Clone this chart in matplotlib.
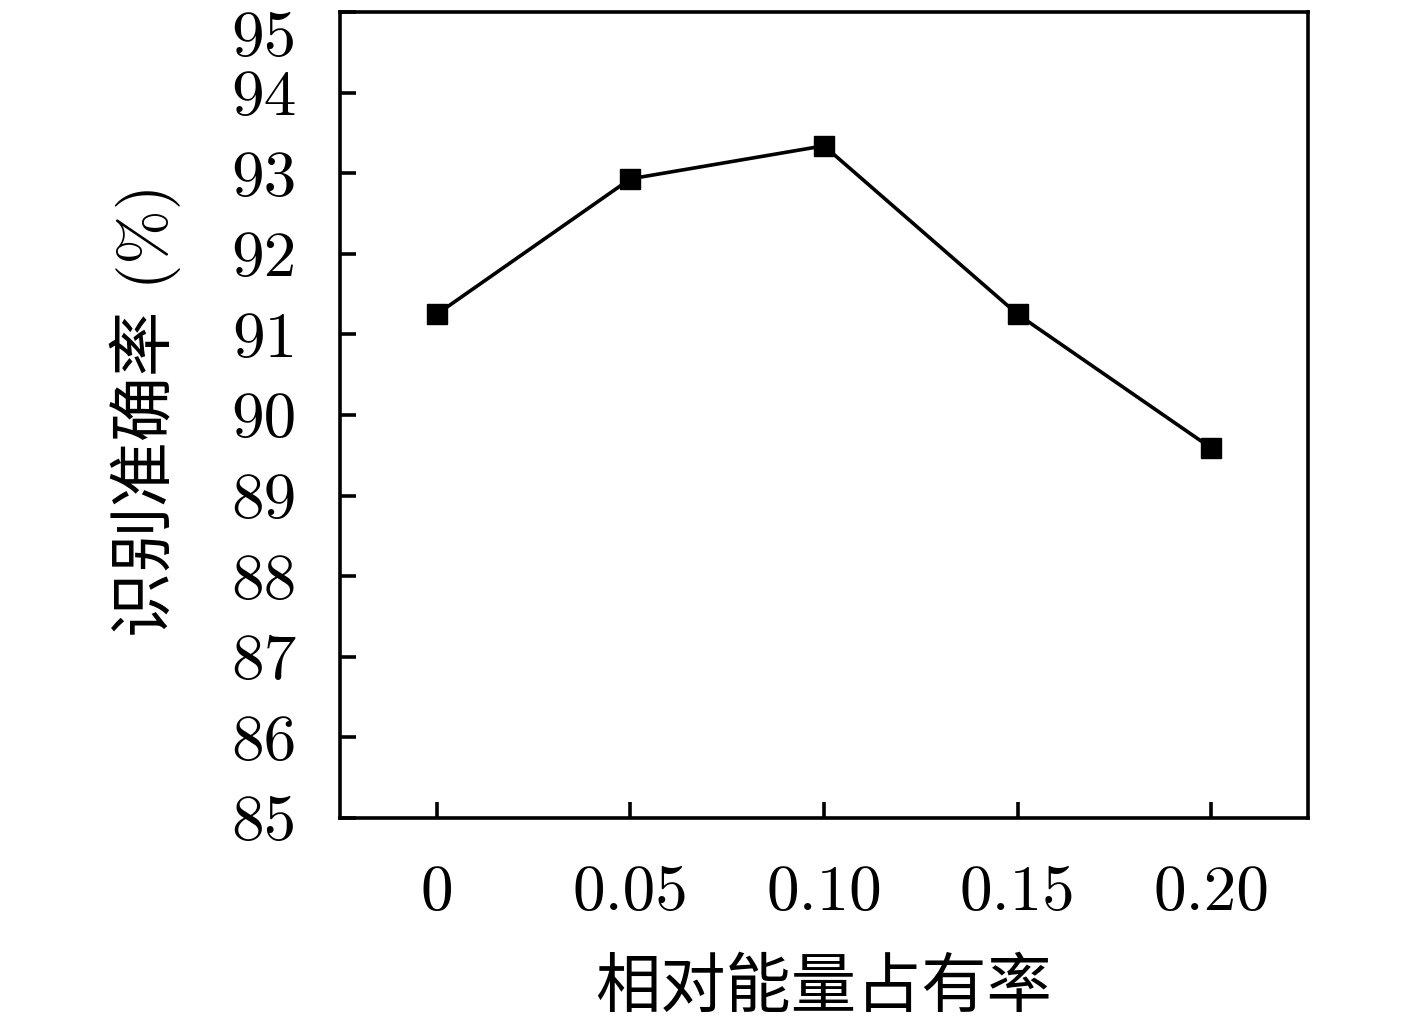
import numpy as np
import matplotlib
matplotlib.use('Agg')
import matplotlib.pyplot as plt
from matplotlib.transforms import ScaledTranslation

ratios = ['0', '0.05', '0.10', '0.15', '0.20']
accuracy = [91.25, 92.93, 93.34, 91.25, 89.59]
yticks = [85, 86, 87, 88, 89, 90, 91, 92, 93, 94, 95]

plt.rcParams['font.family'] = ['cmr10', 'Noto Sans CJK SC', 'DejaVu Sans']

fig = plt.figure(figsize=(14.17, 10.28), dpi=100)
ax = fig.add_axes([0.2399, 0.2043, 0.6832, 0.7840])

x = np.arange(len(ratios))
ax.plot(x, accuracy, color='black', lw=2.6, marker='s', ms=14, mfc='black', mec='black')

ax.set_xlim(-0.5, len(ratios) - 0.5)
ax.set_ylim(85, 95)
ax.set_xticks(x)
ax.set_xticklabels(ratios)
ax.set_yticks(yticks)
ax.set_yticklabels([str(v) for v in yticks])

for s in ax.spines.values():
    s.set_linewidth(2.6)
ax.tick_params(axis='both', direction='in', length=11.5, width=2.6, labelsize=47)
ax.tick_params(axis='x', pad=34)
ax.tick_params(axis='y', pad=31)

# top label sits a little lower so it is not cut off
top = ax.get_yticklabels()[-1]
top.set_transform(top.get_transform() + ScaledTranslation(0, -0.21, fig.dpi_scale_trans))

ax.set_xlabel('相对能量占有率', fontsize=47, va='center')
ax.xaxis.set_label_coords(0.5, -0.2134)
ax.set_ylabel('识别准确率 (%)', fontsize=47, va='center', ha='center')
ax.yaxis.set_label_coords(-0.2014, 0.506)

plt.savefig('out.png', dpi=100)
